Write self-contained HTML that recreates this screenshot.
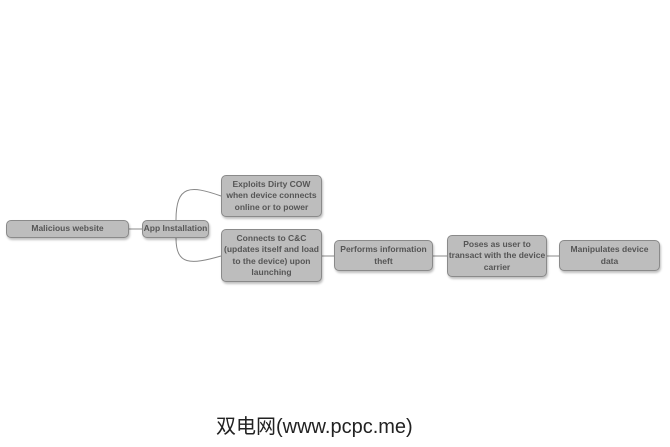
<!DOCTYPE html>
<html><head><meta charset="utf-8"><style>
body{margin:0;width:670px;height:447px;background:#fff;position:relative;overflow:hidden;font-family:"Liberation Sans","DejaVu Sans",sans-serif}
.b{position:absolute;box-sizing:border-box;background:#bdbdbd;border:1px solid #8a8a8a;border-radius:5px;box-shadow:1px 2px 2px rgba(0,0,0,.25);display:flex;align-items:center;justify-content:center;text-align:center;font-size:8.5px;font-weight:bold;color:#555;line-height:11.5px}
.w{position:absolute;left:212px;top:408px;font-size:20px;color:#222;font-family:"Liberation Sans","Noto Sans CJK SC",sans-serif;background:#fff;padding:2px 4px}
</style></head><body>
<svg width="670" height="447" style="position:absolute;left:0;top:0">
<g stroke="#888" fill="none" stroke-width="1">
<line x1="129" y1="229" x2="142" y2="229"/>
<path d="M176 220 C176 185,190 185,221 196"/>
<path d="M176 238 C176 265,190 265,221 256"/>
<line x1="322" y1="256" x2="334" y2="256"/>
<line x1="433" y1="256" x2="447" y2="256"/>
<line x1="547" y1="256" x2="559" y2="256"/>
</g></svg>
<div class="b" style="left:6px;top:220px;width:123px;height:18px">Malicious website</div>
<div class="b" style="left:142px;top:220px;width:67px;height:18px">App Installation</div>
<div class="b" style="left:221px;top:175px;width:101px;height:42px">Exploits Dirty COW<br>when device connects<br>online or to power</div>
<div class="b" style="left:221px;top:229px;width:101px;height:53px">Connects to C&amp;C<br>(updates itself and load<br>to the device) upon<br>launching</div>
<div class="b" style="left:334px;top:240px;width:99px;height:31px">Performs information<br>theft</div>
<div class="b" style="left:447px;top:235px;width:100px;height:42px">Poses as user to<br>transact with the device<br>carrier</div>
<div class="b" style="left:559px;top:240px;width:101px;height:31px">Manipulates device<br>data</div>
<div class="w">双电网(www.pcpc.me)</div>
</body></html>
